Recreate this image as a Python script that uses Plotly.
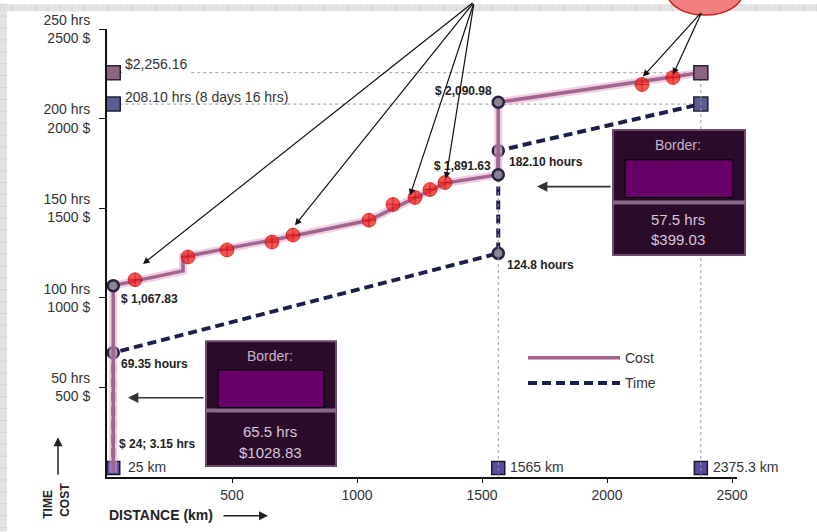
import plotly.graph_objects as go

# ---------------- data ----------------
cost_km = [25, 25, 304, 304, 744, 1048, 1352, 1565, 1565, 2375.3]
cost_usd = [24, 1067.83, 1150, 1228, 1345, 1433, 1640, 1687, 2090.98, 2256.16]

time_km = [25, 25, 1565, 1565, 2375.3]
time_hrs = [3.15, 69.35, 124.8, 182.1, 208.1]

cost_node_km = [25, 1565, 1565]
cost_node_usd = [1067.83, 1687, 2090.98]
time_node_km = [25, 1565, 1565]
time_node_hrs = [69.35, 124.8, 182.1]

dot_km = [112, 324, 480, 660, 744, 1048, 1144, 1232, 1292, 1352, 2140, 2264]
dot_usd = [1101, 1228, 1267, 1311, 1350, 1433, 1521, 1560, 1604, 1643, 2190, 2229]

start_km = 25
border_km = 1565
end_km = 2375.3
total_cost = 2256.16
total_hrs = 208.1
km_marks = [25, 1565, 2375.3]
km_mark_hrs = [5, 5, 5]

x_ticks = [500, 1000, 1500, 2000, 2500]
y_ticks = [50, 100, 150, 200, 250]
y_tick_text = ["50 hrs<br>500 $", "100 hrs<br>1000 $", "150 hrs<br>1500 $",
               "200 hrs<br>2000 $", "250 hrs<br>2500 $"]

# ---------------- layout helpers (pixel -> paper) ----------------
W, H = 817, 532
PX0, PW = 107, 630
PY0, PH = 477, 452


def xp(px):
    return (px - PX0) / PW


def yp(py):
    return (PY0 - py) / PH


FONT = "Liberation Sans, Arial, sans-serif"
COST_C = "#a0668e"
TIME_C = "#1b1f4b"
REF_C = "#9a9a9a"

fig = go.Figure()

# reference dotted lines
fig.add_trace(go.Scatter(x=[start_km, end_km], y=[total_cost, total_cost], yaxis="y2",
                         mode="lines", line=dict(color=REF_C, width=1, dash="dot"),
                         showlegend=False, hoverinfo="skip"))
fig.add_trace(go.Scatter(x=[start_km, end_km], y=[total_hrs, total_hrs],
                         mode="lines", line=dict(color=REF_C, width=1, dash="dot"),
                         showlegend=False, hoverinfo="skip"))
fig.add_trace(go.Scatter(x=[border_km, border_km], y=[0, cost_usd[8]], yaxis="y2",
                         mode="lines", line=dict(color=REF_C, width=1, dash="dot"),
                         showlegend=False, hoverinfo="skip"))
fig.add_trace(go.Scatter(x=[end_km, end_km], y=[0, total_cost], yaxis="y2",
                         mode="lines", line=dict(color=REF_C, width=1, dash="dot"),
                         showlegend=False, hoverinfo="skip"))

# cost halo + line
fig.add_trace(go.Scatter(x=cost_km, y=cost_usd, yaxis="y2", mode="lines",
                         line=dict(color="rgba(228,165,205,0.55)", width=8),
                         showlegend=False, hoverinfo="skip"))
fig.add_trace(go.Scatter(x=cost_km, y=cost_usd, yaxis="y2", mode="lines", name="Cost",
                         line=dict(color=COST_C, width=3.5), legendgroup="c"))

# time line
fig.add_trace(go.Scatter(x=time_km, y=time_hrs, mode="lines", name="Time",
                         line=dict(color=TIME_C, width=4, dash="9px,5px"), legendgroup="t"))

# node circles
fig.add_trace(go.Scatter(x=cost_node_km, y=cost_node_usd, yaxis="y2", mode="markers",
                         marker=dict(symbol="circle", size=11, color="#8a8494",
                                     line=dict(color="#2a2040", width=2.5)),
                         showlegend=False, hoverinfo="skip"))
fig.add_trace(go.Scatter(x=time_node_km, y=time_node_hrs, mode="markers",
                         marker=dict(symbol="circle", size=11, color="#8a8494",
                                     line=dict(color="#2a2040", width=2.5)),
                         showlegend=False, hoverinfo="skip"))

# squares
fig.add_trace(go.Scatter(x=[start_km, end_km], y=[total_cost, total_cost], yaxis="y2",
                         mode="markers",
                         marker=dict(symbol="square", size=14, color="#8c6680",
                                     line=dict(color="#2a2030", width=1.5)),
                         showlegend=False, hoverinfo="skip"))
fig.add_trace(go.Scatter(x=[start_km, end_km], y=[total_hrs, total_hrs], mode="markers",
                         marker=dict(symbol="square", size=14, color="#5c5c94",
                                     line=dict(color="#20203a", width=1.5)),
                         showlegend=False, hoverinfo="skip"))
fig.add_trace(go.Scatter(x=km_marks, y=km_mark_hrs, mode="markers", cliponaxis=False,
                         marker=dict(symbol="square", size=13, color="#5a4aa0",
                                     line=dict(color="#1a1830", width=1.5)),
                         showlegend=False, hoverinfo="skip"))

# red highlight dots
fig.add_trace(go.Scatter(x=dot_km, y=dot_usd, yaxis="y2", mode="markers",
                         marker=dict(symbol="circle-cross", size=14,
                                     color="rgba(240,40,40,0.78)",
                                     line=dict(color="rgba(190,0,0,0.55)", width=1)),
                         showlegend=False, hoverinfo="skip"))

shapes = []
# slide background strips
shapes.append(dict(type="rect", xref="paper", yref="paper", x0=xp(0), x1=xp(W),
                   y0=yp(7), y1=yp(0), fillcolor="#e3e3e3", line=dict(width=0), layer="below"))
shapes.append(dict(type="rect", xref="paper", yref="paper", x0=xp(0), x1=xp(7),
                   y0=yp(H), y1=yp(0), fillcolor="#e3e3e3", line=dict(width=0), layer="below"))
for gx in range(0, W, 12):
    shapes.append(dict(type="line", xref="paper", yref="paper", x0=xp(gx), x1=xp(gx),
                       y0=yp(7), y1=yp(0), line=dict(color="#d2d2d2", width=1), layer="below"))
for gy in range(0, H, 12):
    shapes.append(dict(type="line", xref="paper", yref="paper", x0=xp(0), x1=xp(7),
                       y0=yp(gy), y1=yp(gy), line=dict(color="#d2d2d2", width=1), layer="below"))

# red ellipse (cut at top)
shapes.append(dict(type="circle", xref="paper", yref="paper", x0=xp(667), x1=xp(743),
                   y0=yp(11), y1=yp(-36), fillcolor="#f38080",
                   line=dict(color="#c82020", width=1.5)))


def border_box(x0, x1, y0, y1, iy0, iy1, sy):
    shapes.append(dict(type="rect", xref="paper", yref="paper", x0=xp(x0), x1=xp(x1),
                       y0=yp(y1), y1=yp(y0), fillcolor="#2a0c2a",
                       line=dict(color="#6e4c6e", width=2)))
    shapes.append(dict(type="rect", xref="paper", yref="paper", x0=xp(x0), x1=xp(x1),
                       y0=yp(sy + 4), y1=yp(sy), fillcolor="#8a6a8a", line=dict(width=0)))
    shapes.append(dict(type="rect", xref="paper", yref="paper", x0=xp(x0 + 12), x1=xp(x1 - 12),
                       y0=yp(iy1), y1=yp(iy0), fillcolor="#660066",
                       line=dict(color="#000000", width=1)))


border_box(206, 336, 340, 466, 369, 407, 408)
border_box(613, 745, 127, 253, 157, 195, 198)

ann = []


def lab(x, y, text, yref="y", xanchor="left", xs=0, ys=0, size=12, bold=True,
        color="#222222", bg=None):
    d = dict(x=x, y=y, xref="x", yref=yref, text=("<b>%s</b>" % text) if bold else text,
             showarrow=False, xanchor=xanchor, yanchor="middle", xshift=xs, yshift=ys,
             font=dict(family=FONT, size=size, color=color))
    if bg:
        d["bgcolor"] = bg
    ann.append(d)


lab(start_km, total_cost, "$2,256.16", yref="y2", xs=10, ys=9, size=14, bold=False,
    color="#333333", bg="white")
lab(start_km, total_hrs, "208.10 hrs (8 days 16 hrs)", xs=10, ys=7, size=14, bold=False,
    color="#333333")
lab(border_km, cost_usd[8], "$ 2,090.98", yref="y2", xanchor="right", xs=-4, ys=11)
lab(border_km, cost_usd[7], "$ 1,891.63", yref="y2", xanchor="right", xs=-5, ys=9)
lab(border_km, time_hrs[3], "182.10 hours", xs=9, ys=-11)
lab(border_km, time_hrs[2], "124.8 hours", xs=7, ys=-12)
lab(start_km, cost_usd[1], "$ 1,067.83", yref="y2", xs=6, ys=-13)
lab(start_km, time_hrs[1], "69.35 hours", xs=6, ys=-11)
lab(start_km, time_hrs[0], "$ 24; 3.15 hrs", xs=4, ys=27)
lab(km_marks[0], km_mark_hrs[0], "25 km", xs=13, ys=1, size=14, bold=False, color="#333333")
lab(km_marks[1], km_mark_hrs[1], "1565 km", xs=10, ys=1, size=14, bold=False, color="#333333")
lab(km_marks[2], km_mark_hrs[2], "2375.3 km", xs=10, ys=1, size=14, bold=False, color="#333333")


def ptext(px, py, text, size, color, bold=False, angle=0):
    ann.append(dict(x=xp(px), y=yp(py), xref="paper", yref="paper",
                    text=("<b>%s</b>" % text) if bold else text, showarrow=False,
                    xanchor="center", yanchor="middle", textangle=angle,
                    font=dict(family=FONT, size=size, color=color)))


ptext(270, 355, "Border:", 14, "#c9b3c9")
ptext(270, 431, "65.5 hrs", 15, "#d9c6d9")
ptext(270, 452, "$1028.83", 15, "#d9c6d9")
ptext(678, 142, "Border:", 14, "#c9b3c9")
ptext(678, 217, "57.5 hrs", 15, "#d9c6d9")
ptext(678, 237, "$399.03", 15, "#d9c6d9")
ptext(161, 515, "DISTANCE (km)", 14, "#222222", bold=True)
ptext(48, 505, "TIME", 12, "#222222", bold=True, angle=-90)
ptext(65, 500, "COST", 12, "#222222", bold=True, angle=-90)


def arrow(hx, hy, tx, ty, width=1.2, color="#111111", size=1.1):
    ann.append(dict(x=xp(hx), y=yp(hy), xref="paper", yref="paper", text="",
                    showarrow=True, arrowhead=2, arrowsize=size, arrowwidth=width,
                    arrowcolor=color, ax=tx - hx, ay=ty - hy))


# callouts from above
for hx, hy in [(143, 262), (295, 223), (410, 193), (446, 176)]:
    arrow(hx, hy, 474, 0)
for hx, hy in [(643, 73), (673, 71)]:
    arrow(hx, hy, 702, 8)
# border arrows
arrow(128, 397, 205, 397, width=1.6, color="#333333", size=1.3)
arrow(537, 184, 612, 184, width=1.6, color="#333333", size=1.3)
# axis title arrows
arrow(268, 516, 222, 516, width=1.5, color="#222222", size=1.2)
arrow(58, 437, 58, 476, width=1.5, color="#222222", size=1.2)

fig.update_layout(
    width=W, height=H, autosize=False,
    margin=dict(l=PX0, r=W - PX0 - PW, t=PY0 - PH, b=H - PY0),
    paper_bgcolor="white", plot_bgcolor="white",
    font=dict(family=FONT, size=14, color="#333333"),
    xaxis=dict(range=[0, 2520], tickvals=x_ticks, showgrid=False, zeroline=False,
               showline=True, linecolor="#111111", linewidth=2, ticks="outside",
               ticklen=4, tickcolor="#111111", tickfont=dict(size=14, color="#333333")),
    yaxis=dict(range=[0, 250], tickvals=y_ticks, ticktext=y_tick_text, showgrid=False,
               zeroline=False, showline=True, linecolor="#111111", linewidth=2,
               ticks="outside", ticklen=6, tickcolor="#111111", ticklabelstandoff=6,
               tickfont=dict(size=14, color="#333333")),
    yaxis2=dict(range=[0, 2500], overlaying="y", visible=False),
    showlegend=True,
    legend=dict(x=xp(523), y=yp(341), xanchor="left", yanchor="top",
                bgcolor="rgba(0,0,0,0)", itemwidth=92, traceorder="grouped",
                tracegroupgap=4, font=dict(size=14, color="#333333")),
    shapes=shapes, annotations=ann,
)

# remove the default page margin so the figure sits at the window's origin
fig.write_html("out.html", config={"displayModeBar": False},
               post_script="document.body.style.margin='0px';")
